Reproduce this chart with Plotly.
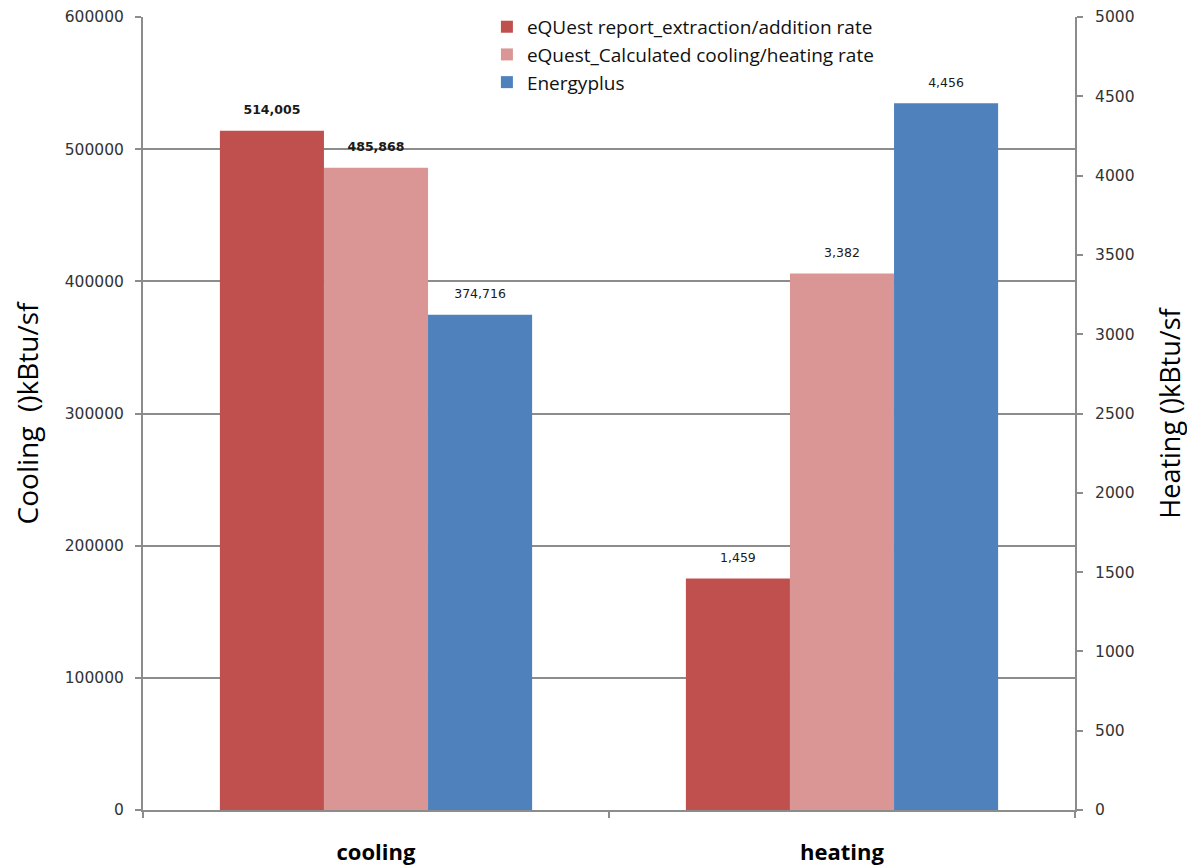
import plotly.graph_objects as go

categories = ["cooling", "heating"]
series_names = ["eQUest report_extraction/addition rate",
                "eQuest_Calculated cooling/heating rate",
                "Energyplus"]
cooling_values = [514005, 485868, 374716]
heating_values = [1459, 3382, 4456]
colors = ["#C0504D", "#D99694", "#4F81BD"]
cooling_bold = [True, True, False]

label_font = dict(family="DejaVu Sans", size=12.5, color="#1a1a1a")

fig = go.Figure()
for i, name in enumerate(series_names):
    ctxt = f"{cooling_values[i]:,}"
    if cooling_bold[i]:
        ctxt = f"<b>{ctxt}</b>"
    htxt = f"{heating_values[i]:,}"
    fig.add_trace(go.Bar(
        x=[categories[0]], y=[cooling_values[i]], name=name,
        marker=dict(color=colors[i], line=dict(width=0)),
        offsetgroup=str(i), alignmentgroup="a",
        yaxis="y", legendgroup=str(i), showlegend=True, hoverinfo="skip"))
    fig.add_trace(go.Bar(
        x=[categories[1]], y=[heating_values[i]], name=name,
        marker=dict(color=colors[i], line=dict(width=0)),
        offsetgroup=str(i), alignmentgroup="a",
        yaxis="y2", legendgroup=str(i), showlegend=False, hoverinfo="skip"))
    fig.add_trace(go.Scatter(
        x=[categories[0]], y=[cooling_values[i]], mode="markers+text",
        marker=dict(size=20, opacity=0), text=[ctxt], textposition="top center",
        textfont=label_font, offsetgroup=str(i), alignmentgroup="a",
        yaxis="y", showlegend=False, hoverinfo="skip", cliponaxis=False))
    fig.add_trace(go.Scatter(
        x=[categories[1]], y=[heating_values[i]], mode="markers+text",
        marker=dict(size=20, opacity=0), text=[htxt], textposition="top center",
        textfont=label_font, offsetgroup=str(i), alignmentgroup="a",
        yaxis="y2", showlegend=False, hoverinfo="skip", cliponaxis=False))

fig.update_layout(
    width=1187, height=857,
    margin=dict(l=135, r=120, t=9, b=55, autoexpand=False),
    paper_bgcolor="white", plot_bgcolor="white",
    barmode="group", bargap=0.33, bargroupgap=0,
    scattermode="group", scattergap=0.33,
    font=dict(family="DejaVu Sans", color="#333"),
    legend=dict(x=0.369, y=1.0115, xanchor="left", yanchor="top",
                bgcolor="white", font=dict(family="Open Sans", size=19, color="#111"),
                tracegroupgap=0, itemwidth=30),
    xaxis=dict(type="category", categoryorder="array", categoryarray=categories,
               showline=True, linecolor="#8c8c8c", linewidth=2,
               ticks="outside", tickson="boundaries", ticklen=6, tickcolor="#8c8c8c",
               tickwidth=2, ticklabelstandoff=22,
               tickfont=dict(family="Open Sans", size=22, color="#000"),
               showgrid=False),
    yaxis=dict(range=[0, 600000], dtick=100000, tickformat="d",
               showline=True, linecolor="#8c8c8c", linewidth=2,
               ticks="outside", ticklen=6, tickcolor="#8c8c8c", tickwidth=2,
               ticklabelstandoff=8,
               showgrid=True, gridcolor="#8c8c8c", gridwidth=2,
               zeroline=False,
               tickfont=dict(family="DejaVu Sans", size=15.5, color="#333"),
               title=dict(text="Cooling  ()kBtu/sf", standoff=20,
                          font=dict(family="Open Sans", size=28, color="#000"))),
    yaxis2=dict(range=[0, 5000], dtick=500, tickformat="d", overlaying="y", side="right",
                showline=True, linecolor="#8c8c8c", linewidth=2,
                ticks="outside", ticklen=6, tickcolor="#8c8c8c", tickwidth=2,
                ticklabelstandoff=9,
                showgrid=False, zeroline=False,
                tickfont=dict(family="DejaVu Sans", size=15.5, color="#333"),
                title=dict(text="Heating ()kBtu/sf", standoff=28,
                           font=dict(family="Open Sans", size=27, color="#000"))),
)
fig.update_xaxes(tickprefix="<b>", ticksuffix="</b>")

fig.write_html("out.html")
